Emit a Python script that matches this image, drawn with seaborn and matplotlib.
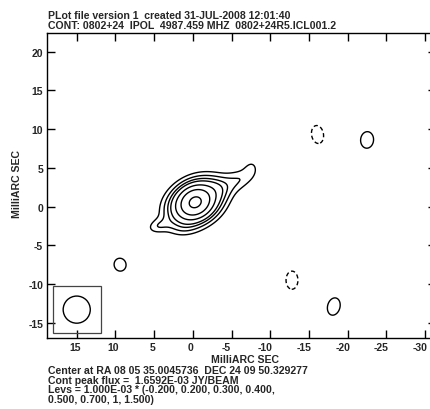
import numpy as np
import matplotlib
matplotlib.use("Agg")
import matplotlib.pyplot as plt
import seaborn as sns
from matplotlib.patches import Rectangle, Circle
from matplotlib.transforms import ScaledTranslation

# contour levels (mJy/beam) from the plot footer
levels = [-0.2, 0.2, 0.3, 0.4, 0.5, 0.7, 1.0, 1.5]

# gaussian components (mas, mJy/beam, deg)
comp_x = [-0.3, -0.3, -3.5, -5.5, -6.9, -7.6, 4.7, 1.5, 9.4, -16.1, -22.5, -12.8, -18.2]
comp_y = [0.55, 0.55, 2.4, 3.3, 3.9, 5.0, -2.6, -3.0, -7.5, 9.3, 8.6, -9.5, -12.9]
comp_flux = [0.62, 1.04, 0.10, 0.15, 0.14, 0.17, 0.19, 0.06, 0.25, -0.25, 0.25, -0.25, 0.25]
comp_major = [1.25, 2.70, 1.2, 1.2, 1.1, 0.9, 1.1, 1.5, 1.25, 1.75, 1.6, 1.75, 1.7]
comp_minor = [1.10, 1.95, 1.1, 1.1, 1.0, 0.7, 0.7, 0.8, 1.15, 1.15, 1.25, 1.15, 1.2]
comp_angle = [150, 150, 165, 160, 140, 100, 165, 175, 75, 80, 95, 90, 105]

# restoring beam
beam_x, beam_y, beam_r = 15.0, -13.3, 1.75
box_x0, box_y0, box_w = 18.0, -16.3, 6.1

xlim = (18.8, -31.4)
ylim = (-17.0, 22.4)

sns.set_style("ticks")
plt.rcParams['font.family'] = ['Liberation Sans', 'DejaVu Sans']
plt.rcParams['font.weight'] = 'bold'
plt.rcParams['axes.unicode_minus'] = False

xs = np.linspace(19.5, -32.0, 520)
ys = np.linspace(-17.5, 23.0, 410)
X, Y = np.meshgrid(xs, ys)
Z = np.zeros_like(X)
for x0, y0, f, a, b, t in zip(comp_x, comp_y, comp_flux, comp_major, comp_minor, comp_angle):
    th = np.deg2rad(t)
    dx, dy = X - x0, Y - y0
    u = dx * np.cos(th) + dy * np.sin(th)
    v = -dx * np.sin(th) + dy * np.cos(th)
    Z += f * np.exp(-0.5 * ((u / a) ** 2 + (v / b) ** 2))

fig = plt.figure(figsize=(4.3, 4.1), dpi=100)
ax = fig.add_axes([47.3 / 430, 1 - 339.3 / 410, (436 - 47.3) / 430, (339.3 - 34) / 410])

styles = [(0, (3, 2)) if lv < 0 else 'solid' for lv in levels]
ax.contour(X, Y, Z, levels=levels, colors='black', linewidths=1.0, linestyles=styles)

ax.add_patch(Rectangle((box_x0, box_y0), -box_w, box_w, fill=False, edgecolor='#444444', lw=0.9))
ax.add_patch(Circle((beam_x, beam_y), beam_r, fill=False, edgecolor='black', lw=1.0))

ax.set_xlim(*xlim)
ax.set_ylim(*ylim)
xt = [15, 10, 5, 0, -5, -10, -15, -20, -25, -30]
yt = [20, 15, 10, 5, 0, -5, -10, -15]
ax.set_xticks(xt)
ax.set_xticklabels([str(v) for v in xt], fontweight='bold')
ax.set_yticks(yt)
ax.set_yticklabels([str(v) for v in yt], fontweight='bold')
ax.tick_params(direction='in', length=6, width=1, top=True, right=True,
               labelsize=7.5, pad=3, color='black')
# AIPS puts the minus sign in front of a centred number
for v, lab in zip(xt, ax.get_xticklabels()):
    shift = -5 if v < 0 else -2
    lab.set_transform(lab.get_transform() + ScaledTranslation(shift / 100, 0, fig.dpi_scale_trans))
for s in ax.spines.values():
    s.set_linewidth(1.0)
    s.set_color('black')

fs = 7.6
fig.text(48 / 430, 1 - 18.7 / 410, "PLot file version 1  created 31-JUL-2008 12:01:40",
         fontsize=fs, fontweight='bold', va='baseline')
fig.text(48 / 430, 1 - 29 / 410, "CONT: 0802+24  IPOL  4987.459 MHZ  0802+24R5.ICL001.2",
         fontsize=fs, fontweight='bold', va='baseline')
fig.text(245 / 430, 1 - 363.3 / 410, "MilliARC SEC", fontsize=fs, fontweight='bold',
         ha='center', va='baseline')
fig.text(16.7 / 430, 1 - 184 / 410, "MilliARC SEC", fontsize=fs, fontweight='bold',
         ha='center', va='center', rotation=90)
footer = ["Center at RA 08 05 35.0045736  DEC 24 09 50.329277",
          "Cont peak flux =  1.6592E-03 JY/BEAM",
          "Levs = 1.000E-03 * (-0.200, 0.200, 0.300, 0.400,",
          "0.500, 0.700, 1, 1.500)"]
for i, line in enumerate(footer):
    fig.text(48 / 430, 1 - (374 + 9.7 * i) / 410, line, fontsize=fs, fontweight='bold',
             va='baseline')

fig.savefig("out.png", dpi=100)
